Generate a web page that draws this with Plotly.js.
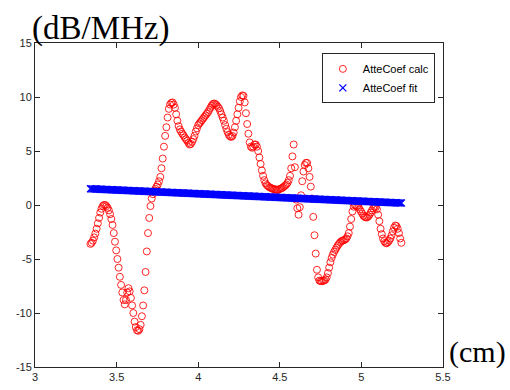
<!DOCTYPE html>
<html>
<head>
<meta charset="utf-8">
<script src="https://cdn.plot.ly/plotly-3.0.1.min.js"></script>
<style>html,body{margin:0;padding:0;background:#fff;}#chart{width:510px;height:390px;}</style>
</head>
<body>
<div id="chart"></div>
<script>
// Depth grid (cm): evenly spaced samples
var depthStart = 3.34;
var depthStep = 0.0075;

// Attenuation coefficient, calculated (dB/MHz)
var atteCalc = [
-3.6,-3.5,-3.3,-3.0,-2.65,-2.2,-1.7,-1.2,-0.7,-0.35,
-0.1,0.0,0.0,-0.1,-0.25,-0.5,-0.85,-1.3,-1.85,-2.6,
-3.4,-4.2,-5.0,-5.8,-6.65,-7.4,-8.1,-8.8,-9.2,-8.8,
-8.1,-7.7,-8.0,-8.6,-9.3,-10.0,-10.8,-11.3,-11.6,-11.65,
-11.5,-11.1,-10.3,-9.3,-7.9,-6.2,-4.3,-2.6,-1.2,-0.1,
0.6,1.0,1.3,1.5,1.7,1.9,2.2,2.6,3.4,4.3,
5.4,6.4,7.2,8.1,8.9,9.3,9.45,9.5,9.3,9.0,
8.4,7.8,7.3,7.0,6.8,6.6,6.45,6.25,6.1,5.95,
5.75,5.6,5.65,5.85,6.1,6.4,6.8,7.1,7.4,7.55,
7.7,7.85,8.0,8.15,8.3,8.45,8.6,8.8,9.0,9.2,
9.35,9.4,9.35,9.25,9.1,8.95,8.7,8.4,8.1,7.8,
7.4,7.05,6.75,6.5,6.35,6.3,6.4,6.7,7.2,7.8,
8.4,9.0,9.6,10.0,10.15,10.1,9.5,8.5,7.5,6.6,
5.8,5.4,5.3,5.4,5.6,5.6,5.4,5.0,4.4,3.8,
3.2,2.7,2.3,2.0,1.85,1.75,1.65,1.6,1.55,1.5,
1.45,1.45,1.4,1.4,1.45,1.5,1.55,1.6,1.7,1.8,
1.9,2.05,2.3,2.7,3.4,4.5,5.6,3.5,0.5,-0.3,
-0.9,-0.2,0.9,2.2,3.1,3.7,3.9,3.9,3.4,2.6,
1.7,0.6,-1.1,-2.8,-4.5,-6.0,-6.7,-7.0,-7.05,-7.05,
-7.0,-7.0,-6.9,-6.7,-6.3,-5.8,-5.3,-4.9,-4.6,-4.35,
-4.15,-3.95,-3.75,-3.6,-3.45,-3.35,-3.3,-3.25,-3.2,-3.1,
-2.9,-2.6,-2.0,-1.3,-0.6,-0.15,0.0,-0.05,-0.1,-0.2,
-0.4,-0.6,-0.8,-1.0,-1.1,-1.15,-1.15,-1.05,-0.9,-0.7,
-0.5,-0.3,-0.15,-0.2,-0.4,-0.9,-1.5,-2.2,-2.7,-3.1,
-3.35,-3.5,-3.55,-3.45,-3.3,-3.1,-2.8,-2.45,-2.1,-1.9,
-1.95,-2.2,-2.6,-3.1,-3.5
];

// Linear fit: value at first and last depth
var fitStartValue = 1.5;
var fitEndValue = 0.18;

var seriesNames = ['AtteCoef calc', 'AtteCoef fit'];
var xTicks = [3, 3.5, 4, 4.5, 5, 5.5];
var xTickText = ['3', '3.5', '4', '4.5', '5', '5.5'];
var yTicks = [-15, -10, -5, 0, 5, 10, 15];
var yTickText = ['-15', '-10', '-5', '0', '5', '10', '15'];
var yUnit = '(dB/MHz)';
var xUnit = '(cm)';

var depth = atteCalc.map(function (_, i) { return +(depthStart + i * depthStep).toFixed(4); });
var n = depth.length;
var fitSlope = (fitEndValue - fitStartValue) / (depth[n - 1] - depth[0]);
var atteFit = depth.map(function (d) { return fitStartValue + fitSlope * (d - depth[0]); });

var axisColor = '#262626';
var tickFont = {family: 'Liberation Sans, Arial, sans-serif', size: 11, color: axisColor};

var traces = [
  {
    x: depth, y: atteCalc, name: seriesNames[0], type: 'scatter', mode: 'markers',
    marker: {symbol: 'circle-open', size: 7, color: 'rgba(255,0,0,0.85)', line: {width: 1, color: 'rgba(255,0,0,0.85)'}}
  },
  {
    x: depth, y: atteFit, name: seriesNames[1], type: 'scatter', mode: 'markers',
    marker: {symbol: 'x-thin', size: 7, color: '#0000ff', line: {width: 1.3, color: '#0000ff'}}
  }
];

var layout = {
  width: 510, height: 390,
  margin: {l: 35, r: 67, t: 43, b: 23, pad: 0},
  paper_bgcolor: '#ffffff', plot_bgcolor: '#ffffff',
  showlegend: true,
  legend: {
    x: 0.98, y: 0.968, xanchor: 'right', yanchor: 'top',
    bgcolor: '#ffffff', bordercolor: axisColor, borderwidth: 1,
    font: {family: 'Liberation Sans, Arial, sans-serif', size: 11, color: '#000000'},
    itemwidth: 30, tracegroupgap: 0
  },
  xaxis: {
    range: [3, 5.5], tickmode: 'array', tickvals: xTicks, ticktext: xTickText,
    ticks: 'inside', ticklen: 5, tickwidth: 1, tickcolor: axisColor,
    showline: true, linecolor: axisColor, linewidth: 1, mirror: 'ticks',
    showgrid: false, zeroline: false, tickfont: tickFont, fixedrange: true
  },
  yaxis: {
    range: [-15, 15], tickmode: 'array', tickvals: yTicks, ticktext: yTickText,
    ticks: 'inside', ticklen: 5, tickwidth: 1, tickcolor: axisColor,
    showline: true, linecolor: axisColor, linewidth: 1, mirror: 'ticks',
    showgrid: false, zeroline: false, tickfont: tickFont, fixedrange: true
  },
  annotations: [
    {
      text: yUnit, xref: 'paper', yref: 'paper', x: -0.012, y: 0.982,
      xanchor: 'left', yanchor: 'bottom', showarrow: false,
      font: {family: 'Liberation Serif, Times New Roman, serif', size: 33, color: '#000000'}
    },
    {
      text: xUnit, xref: 'paper', yref: 'paper', x: 1.01, y: -0.012,
      xanchor: 'left', yanchor: 'bottom', showarrow: false,
      font: {family: 'Liberation Serif, Times New Roman, serif', size: 30, color: '#000000'}
    }
  ]
};

Plotly.newPlot('chart', traces, layout, {displayModeBar: false, staticPlot: true});
</script>
</body>
</html>
